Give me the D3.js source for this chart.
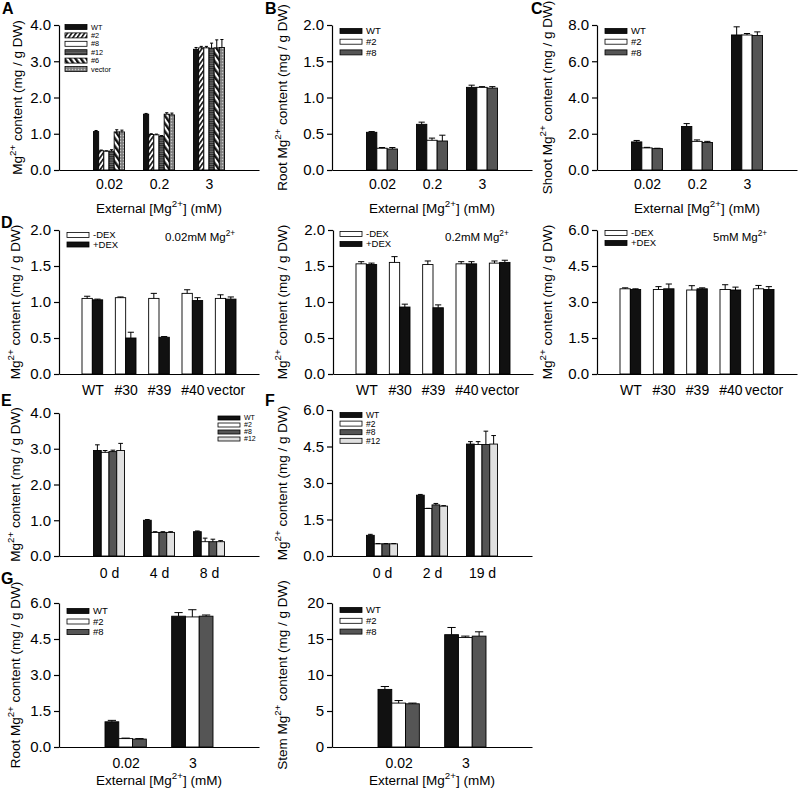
<!DOCTYPE html>
<html><head><meta charset="utf-8">
<script src="https://cdn.jsdelivr.net/npm/d3@7"></script>
<style>
body{margin:0;background:#fff}
text{font-family:"Liberation Sans", Arial, sans-serif;fill:#000}
</style>
</head><body><svg id="c" width="800" height="794"></svg>
<script>
// ---------------- DATA ----------------
const concA = ["0.02","0.2","3"];
const seriesA = ["WT","#2","#8","#12","#6","vector"];
const valuesA = [[1.06,1.54,3.33],[0.53,0.98,3.37],[0.52,0.97,3.37],[0.52,0.93,3.36],[1.05,1.54,3.37],[1.05,1.52,3.38]];
const errorsA = [[0.03,0.02,0.05],[0.02,0.02,0.04],[0.01,0.02,0.04],[0.04,0.02,0.14],[0.06,0.04,0.22],[0.05,0.05,0.22]];
const ticksA = [0,1,2,3,4];

const concB = ["0.02","0.2","3"];
const seriesB = ["WT","#2","#8"];
const valuesB = [[0.52,0.63,1.14],[0.30,0.41,1.14],[0.29,0.40,1.13]];
const errorsB = [[0.01,0.03,0.03],[0.01,0.03,0.01],[0.02,0.08,0.02]];
const ticksB = [0,0.5,1,1.5,2];

const concC = ["0.02","0.2","3"];
const seriesC = ["WT","#2","#8"];
const valuesC = [[1.55,2.40,7.45],[1.22,1.58,7.45],[1.18,1.52,7.42]];
const errorsC = [[0.08,0.16,0.45],[0.03,0.08,0.08],[0.02,0.06,0.20]];
const ticksC = [0,2,4,6,8];

const linesD = ["WT","#30","#39","#40","vector"];
const seriesD = ["-DEX","+DEX"];
const valuesD1 = [[1.05,1.06,1.05,1.12,1.05],[1.03,0.50,0.51,1.02,1.04]];
const errorsD1 = [[0.03,0.01,0.07,0.05,0.05],[0.01,0.08,0.01,0.04,0.03]];
const valuesD2 = [[1.53,1.55,1.52,1.53,1.54],[1.52,0.93,0.92,1.53,1.55]];
const errorsD2 = [[0.03,0.08,0.05,0.03,0.03],[0.02,0.04,0.04,0.03,0.03]];
const valuesD3 = [[3.55,3.52,3.50,3.52,3.55],[3.52,3.55,3.55,3.50,3.52]];
const errorsD3 = [[0.04,0.12,0.18,0.20,0.14],[0.03,0.20,0.04,0.12,0.12]];
const ticksD12 = [0,0.5,1,1.5,2];
const ticksD3 = [0,1.5,3,4.5,6];

const daysE = ["0 d","4 d","8 d"];
const seriesE = ["WT","#2","#8","#12"];
const valuesE = [[2.95,1.00,0.68],[2.90,0.66,0.40],[2.92,0.66,0.40],[2.95,0.66,0.40]];
const errorsE = [[0.16,0.02,0.02],[0.05,0.02,0.10],[0.04,0.02,0.07],[0.20,0.02,0.03]];
const ticksE = [0,1,2,3,4];

const daysF = ["0 d","2 d","19 d"];
const seriesF = ["WT","#2","#8","#12"];
const valuesF = [[0.85,2.50,4.60],[0.50,1.95,4.58],[0.50,2.10,4.58],[0.50,2.05,4.60]];
const errorsF = [[0.04,0.03,0.10],[0.01,0.01,0.12],[0.01,0.06,0.55],[0.01,0.02,0.35]];
const ticksF = [0,1.5,3,4.5,6];

const concG = ["0.02","3"];
const seriesG = ["WT","#2","#8"];
const valuesGroot = [[1.05,5.45],[0.35,5.42],[0.33,5.45]];
const errorsGroot = [[0.06,0.15],[0.02,0.30],[0.02,0.05]];
const ticksGroot = [0,1.5,3,4.5,6];
const valuesGstem = [[8.0,15.6],[6.1,15.2],[6.0,15.4]];
const errorsGstem = [[0.40,1.00],[0.35,0.20],[0.10,0.60]];
const ticksGstem = [0,5,10,15,20];

// ---------------- STYLE ----------------
const svg = d3.select("#c");
const defs = svg.append("defs");
function hatch(id, bg, fg, angle, gap, sw){
  const p = defs.append("pattern").attr("id",id).attr("patternUnits","userSpaceOnUse")
    .attr("width",gap).attr("height",gap).attr("patternTransform",`rotate(${angle})`);
  p.append("rect").attr("width",gap).attr("height",gap).attr("fill",bg);
  p.append("rect").attr("width",sw).attr("height",gap).attr("fill",fg);
}
hatch("pat2","#fff","#111",35,3.5,1.6);
hatch("pat6","#fff","#111",-35,4.5,2.4);
hatch("pat12","#6a6a6a","#2a2a2a",90,2.2,1);
(function(){
  const p = defs.append("pattern").attr("id","patVec").attr("patternUnits","userSpaceOnUse").attr("width",3).attr("height",3);
  p.append("rect").attr("width",3).attr("height",3).attr("fill","#8c8c8c");
  p.append("rect").attr("x",0).attr("y",0).attr("width",1).attr("height",1).attr("fill","#c8c8c8");
  p.append("rect").attr("x",1.5).attr("y",1.5).attr("width",1).attr("height",1).attr("fill","#555");
})();
const fillsA = {"WT":"#111","#2":"url(#pat2)","#8":"#fff","#12":"url(#pat12)","#6":"url(#pat6)","vector":"url(#patVec)"};
const fillsStd = {"WT":"#111","#2":"#fff","#8":"#555","#12":"#e0e0e0","-DEX":"#fff","+DEX":"#111"};

function rich(sel, parts, size){
  parts.forEach(([t,sup])=>{
    if(sup){ sel.append("tspan").attr("font-size",size*0.72).attr("dy",-size*0.42).text(t); }
    else { const ts = sel.append("tspan").text(t); if(sel.node().childNodes.length>1) ts.attr("dy",size*0.42); }
  });
}
const magTitle = pre => [[pre+"Mg",0],["2+",1],[" content (mg / g DW)",0]];
const extTitle = [["External [Mg",0],["2+",1],["] (mM)",0]];

function panel(o){
  const g = svg.append("g");
  const W = 200;
  const x = d3.scalePoint().domain(o.cats).range([o.x0, o.x0+W]).padding(1);
  const y = d3.scaleLinear().domain([0, o.ticks[o.ticks.length-1]]).range([o.bottom, o.top]);
  const gw = x.step()*0.62;
  const inner = d3.scaleBand().domain(d3.range(o.series.length)).range([-gw/2, gw/2]);
  const bw = inner.bandwidth();
  o.series.forEach((s,si)=>{
    o.cats.forEach((c,ci)=>{
      const v = o.values[si][ci], e = o.errors[si][ci];
      const bx = x(c)+inner(si);
      g.append("rect").attr("x",bx).attr("y",y(v)).attr("width",bw).attr("height",y(0)-y(v))
        .attr("fill",o.fills[s]).attr("stroke","#000").attr("stroke-width",0.9);
      const cx = bx+bw/2, cw = Math.max(bw*0.6,3);
      g.append("line").attr("x1",cx).attr("x2",cx).attr("y1",y(v)).attr("y2",y(v+e)).attr("stroke","#000").attr("stroke-width",1);
      g.append("line").attr("x1",cx-cw/2).attr("x2",cx+cw/2).attr("y1",y(v+e)).attr("y2",y(v+e)).attr("stroke","#000").attr("stroke-width",1);
    });
  });
  const ya = g.append("g").attr("transform",`translate(${o.x0},0)`)
    .call(d3.axisLeft(y).tickValues(o.ticks).tickFormat(d3.format(o.fmt)).tickSize(5).tickSizeOuter(0).tickPadding(3));
  ya.selectAll("text").attr("font-size",15).style("font-family","Liberation Sans, Arial, sans-serif");
  ya.selectAll("path,line").attr("stroke","#000").attr("stroke-width",1.2);
  const xa = g.append("g").attr("transform",`translate(0,${o.bottom})`)
    .call(d3.axisBottom(x).tickSize(0).tickSizeOuter(0).tickPadding(o.xpad));
  xa.selectAll("text").attr("font-size",14).style("font-family","Liberation Sans, Arial, sans-serif");
  xa.selectAll("path").attr("stroke","#000").attr("stroke-width",1.2);
  // y title
  const yt = g.append("text").attr("transform",`translate(${o.ytx},${(o.top+o.bottom)/2}) rotate(-90)`)
    .attr("text-anchor","middle").attr("font-size",13.5);
  rich(yt, o.ytitle, 13.5);
  if(o.xtitleY){
    const xt = g.append("text").attr("x",o.x0+W/2).attr("y",o.xtitleY).attr("text-anchor","middle").attr("font-size",13.5);
    rich(xt, extTitle, 13.5);
  }
  // legend
  const L = o.legend;
  o.series.forEach((s,i)=>{
    const cy = L.y + i*L.dy;
    g.append("rect").attr("x",L.x).attr("y",cy-L.rh/2).attr("width",22).attr("height",L.rh)
      .attr("fill",o.fills[s]).attr("stroke","#000").attr("stroke-width",0.8);
    g.append("text").attr("x",L.x+26).attr("y",cy).attr("dy","0.35em").attr("font-size",L.fs).text(s);
  });
  if(o.note){
    const nt = g.append("text").attr("x",o.note.x).attr("y",o.note.y).attr("font-size",11.5);
    rich(nt, o.note.parts, 11.5);
  }
  if(o.letter){
    g.append("text").attr("x",o.letter.x).attr("y",o.letter.y).attr("font-size",16).attr("font-weight","bold").text(o.letter.t);
  }
}

// ---------------- PANELS ----------------
panel({x0:59,top:25,bottom:170,cats:concA,series:seriesA,values:valuesA,errors:errorsA,ticks:ticksA,fmt:".1f",fills:fillsA,
  ytx:22,ytitle:magTitle(""),xtitleY:213,xpad:9,legend:{x:65,y:27,dy:8.4,rh:5,fs:7.3},letter:{t:"A",x:2,y:14}});
panel({x0:332,top:25,bottom:170,cats:concB,series:seriesB,values:valuesB,errors:errorsB,ticks:ticksB,fmt:".1f",fills:fillsStd,
  ytx:287,ytitle:magTitle("Root "),xtitleY:213,xpad:9,legend:{x:340,y:31,dy:10.7,rh:5,fs:9.5},letter:{t:"B",x:265,y:14}});
panel({x0:597,top:25,bottom:170,cats:concC,series:seriesC,values:valuesC,errors:errorsC,ticks:ticksC,fmt:".1f",fills:fillsStd,
  ytx:552,ytitle:magTitle("Shoot "),xtitleY:213,xpad:9,legend:{x:605,y:31,dy:10.7,rh:5,fs:9.5},letter:{t:"C",x:531,y:14}});

const noteParts = pre => [[pre+"mM Mg",0],["2+",1]];
panel({x0:59,top:230,bottom:374,cats:linesD,series:seriesD,values:valuesD1,errors:errorsD1,ticks:ticksD12,fmt:".1f",fills:fillsStd,
  ytx:20,ytitle:magTitle(""),xpad:11,legend:{x:67,y:235,dy:9.5,rh:5,fs:9.5},letter:{t:"D",x:1,y:228},
  note:{x:165,y:241,parts:noteParts("0.02")}});
panel({x0:333,top:230,bottom:374,cats:linesD,series:seriesD,values:valuesD2,errors:errorsD2,ticks:ticksD12,fmt:".1f",fills:fillsStd,
  ytx:287,ytitle:magTitle(""),xpad:11,legend:{x:340,y:234,dy:10,rh:5,fs:9.5},
  note:{x:445,y:241,parts:noteParts("0.2")}});
panel({x0:597,top:230,bottom:374,cats:linesD,series:seriesD,values:valuesD3,errors:errorsD3,ticks:ticksD3,fmt:".1f",fills:fillsStd,
  ytx:552,ytitle:magTitle(""),xpad:11,legend:{x:605,y:233,dy:10,rh:5,fs:9.5},
  note:{x:713,y:241,parts:noteParts("5")}});

panel({x0:59,top:413,bottom:556,cats:daysE,series:seriesE,values:valuesE,errors:errorsE,ticks:ticksE,fmt:".1f",fills:fillsStd,
  ytx:20,ytitle:magTitle(""),xpad:12,legend:{x:218,y:418,dy:7,rh:4,fs:7},letter:{t:"E",x:1,y:406}});
panel({x0:332,top:410,bottom:556,cats:daysF,series:seriesF,values:valuesF,errors:errorsF,ticks:ticksF,fmt:".1f",fills:fillsStd,
  ytx:287,ytitle:magTitle(""),xpad:12,legend:{x:340,y:415,dy:8.6,rh:5,fs:8.5},letter:{t:"F",x:265,y:406}});

panel({x0:59,top:603,bottom:747,cats:concG,series:seriesG,values:valuesGroot,errors:errorsGroot,ticks:ticksGroot,fmt:".1f",fills:fillsStd,
  ytx:20,ytitle:magTitle("Root "),xtitleY:785,xpad:11,legend:{x:67,y:611,dy:10.5,rh:5,fs:9.5},letter:{t:"G",x:1,y:584}});
panel({x0:332,top:603,bottom:747,cats:concG,series:seriesG,values:valuesGstem,errors:errorsGstem,ticks:ticksGstem,fmt:"d",fills:fillsStd,
  ytx:287,ytitle:magTitle("Stem "),xtitleY:785,xpad:11,legend:{x:340,y:610,dy:10.8,rh:5,fs:9.5}});
</script>
</body></html>
